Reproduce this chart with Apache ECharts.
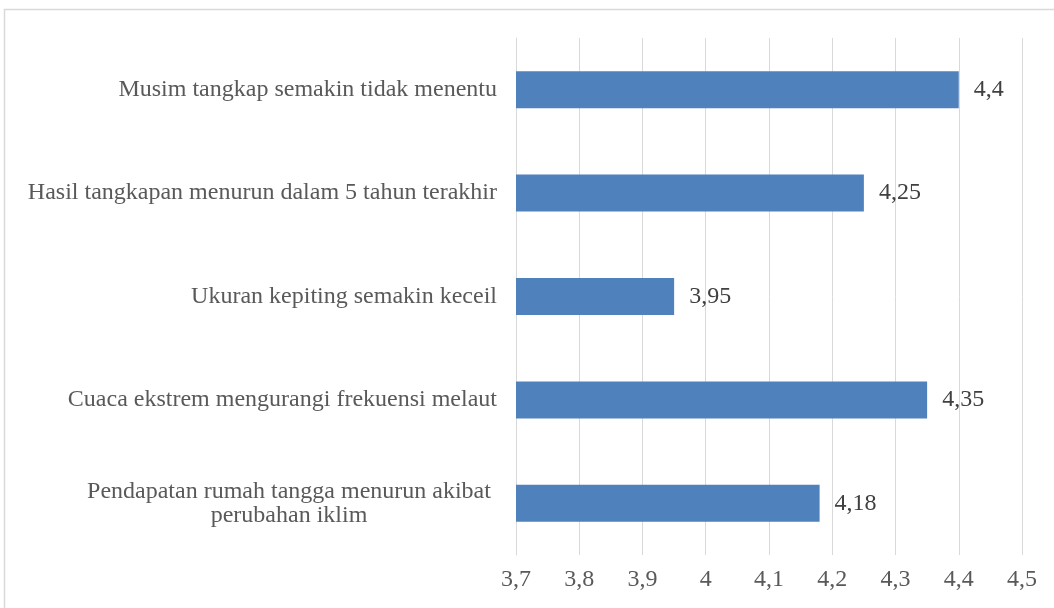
<!DOCTYPE html>
<html>
<head>
<meta charset="utf-8">
<script src="https://cdn.jsdelivr.net/npm/echarts@6/dist/echarts.min.js"></script>
<style>
  html, body { margin: 0; padding: 0; background: #fff; }
  #chart { width: 1054px; height: 608px; }
</style>
</head>
<body>
<div id="chart"></div>
<script>
var categories = [
  "Musim tangkap semakin tidak menentu",
  "Hasil tangkapan menurun dalam 5 tahun terakhir",
  "Ukuran kepiting semakin keceil",
  "Cuaca ekstrem mengurangi frekuensi melaut",
  "Pendapatan rumah tangga menurun akibat\nperubahan iklim"
];
var values = [4.4, 4.25, 3.95, 4.35, 4.18];
var tickMin = 3.7, tickMax = 4.5, tickStep = 0.1;

var fontFam = '"Liberation Serif", "Times New Roman", serif';

var dom = document.getElementById("chart");
var myChart = echarts.init(dom, null, { renderer: "canvas" });

function comma(v) {
  return String(Math.round(v * 100) / 100).replace(".", ",");
}

var option = {
  animation: false,
  backgroundColor: "#fff",
  graphic: [
    {
      type: "rect",
      shape: { x: 4.5, y: 9.5, width: 1060, height: 620 },
      style: { fill: "none", stroke: "#d9d9d9", lineWidth: 1.5 },
      silent: true
    }
  ],
  grid: { left: 516, right: 32, top: 38, bottom: 53, containLabel: false },
  xAxis: {
    type: "value",
    min: tickMin,
    max: tickMax,
    interval: tickStep,
    axisLine: { show: false },
    axisTick: { show: false },
    splitLine: { show: true, lineStyle: { color: "#d9d9d9", width: 1 } },
    axisLabel: {
      margin: 13,
      color: "#595959",
      fontFamily: fontFam,
      fontSize: 24,
      formatter: function (v) { return comma(v); }
    }
  },
  yAxis: {
    type: "category",
    inverse: true,
    data: categories,
    axisLine: { show: true, lineStyle: { color: "#d9d9d9", width: 1 } },
    axisTick: { show: false },
    axisLabel: {
      margin: 19,
      color: "#595959",
      fontFamily: fontFam,
      fontSize: 24,
      lineHeight: 24,
      formatter: function (v) {
        if (v.indexOf("\n") >= 0) {
          return v.split("\n").map(function (s) { return "{w|" + s + "}"; }).join("\n");
        }
        return v;
      },
      rich: {
        w: {
          width: 398,
          align: "center",
          padding: [0, 9, 0, 0],
          color: "#595959",
          fontFamily: fontFam,
          fontSize: 24,
          lineHeight: 24
        }
      }
    }
  },
  series: [
    {
      type: "bar",
      data: values,
      barWidth: 37,
      itemStyle: { color: "#4f81bd" },
      label: {
        show: true,
        position: "right",
        distance: 15,
        color: "#404040",
        fontFamily: fontFam,
        fontSize: 24,
        formatter: function (p) { return comma(p.value); }
      }
    }
  ]
};

option && myChart.setOption(option);
window.addEventListener("resize", myChart.resize);
</script>
</body>
</html>
